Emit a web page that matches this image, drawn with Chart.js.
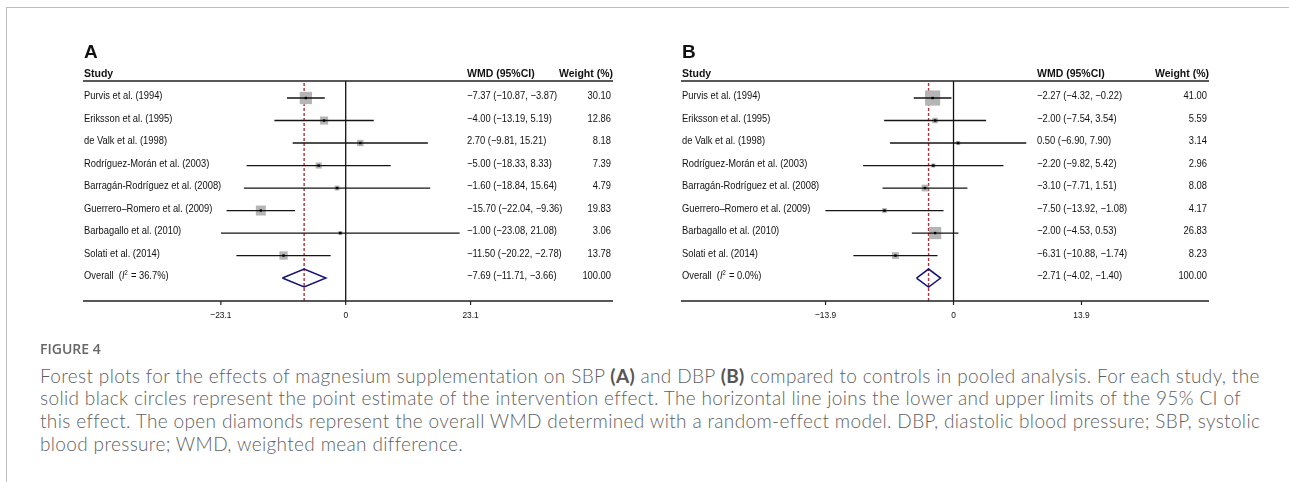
<!DOCTYPE html>
<html>
<head>
<meta charset="utf-8">
<script src="https://cdn.jsdelivr.net/npm/chart.js@4.4.1/dist/chart.umd.min.js"></script>
<style>
  html, body { margin: 0; padding: 0; background: #fff; }
  body { width: 1289px; height: 482px; position: relative; overflow: hidden; }
  .frame { position: absolute; left: 6px; top: 7px; right: 0; bottom: 0;
           border-top: 1px solid #bdbdbd; border-left: 1px solid #bdbdbd; }
  canvas { position: absolute; top: 0; }
  #chartA { left: 0; }
  #chartB { left: 640px; }
  .figlabel { position: absolute; left: 40px; top: 342px; font: 600 14px/14px "Open Sans", sans-serif;
              color: #666; }
  .caption { position: absolute; left: 40px; top: 364.5px; font: 300 19px/22.8px "Lato", sans-serif;
             letter-spacing: 0.35px; color: #5f5f5f; white-space: nowrap; }
  .caption b { font-weight: 700; color: #555; }
</style>
</head>
<body>
<div class="frame"></div>
<canvas id="chartA" width="640" height="340"></canvas>
<canvas id="chartB" width="649" height="340"></canvas>
<div class="figlabel">FIGURE 4</div>
<div class="caption">
Forest plots for the effects of magnesium supplementation on SBP <b>(A)</b> and DBP <b>(B)</b> compared to controls in pooled analysis. For each study, the<br>
solid black circles represent the point estimate of the intervention effect. The horizontal line joins the lower and upper limits of the 95% CI of<br>
this effect. The open diamonds represent the overall WMD determined with a random-effect model. DBP, diastolic blood pressure; SBP, systolic<br>
blood pressure; WMD, weighted mean difference.
</div>
<script>
"use strict";

const studies = [
  "Purvis et al. (1994)",
  "Eriksson et al. (1995)",
  "de Valk et al. (1998)",
  "Rodríguez-Morán et al. (2003)",
  "Barragán-Rodríguez et al. (2008)",
  "Guerrero–Romero et al. (2009)",
  "Barbagallo et al. (2010)",
  "Solati et al. (2014)",
];

// panel A - SBP
const sbpEst = [-7.37, -4.0, 2.7, -5.0, -1.6, -15.7, -1.0, -11.5];
const sbpLow = [-10.87, -13.19, -9.81, -18.33, -18.84, -22.04, -23.08, -20.22];
const sbpHigh = [-3.87, 5.19, 15.21, 8.33, 15.64, -9.36, 21.08, -2.78];
const sbpWeight = [30.1, 12.86, 8.18, 7.39, 4.79, 19.83, 3.06, 13.78];
const sbpOverall = [-7.69, -11.71, -3.66];
const sbpI2 = 36.7;
const sbpTicks = [-23.1, 0, 23.1];

// panel B - DBP
const dbpEst = [-2.27, -2.0, 0.5, -2.2, -3.1, -7.5, -2.0, -6.31];
const dbpLow = [-4.32, -7.54, -6.9, -9.82, -7.71, -13.92, -4.53, -10.88];
const dbpHigh = [-0.22, 3.54, 7.9, 5.42, 1.51, -1.08, 0.53, -1.74];
const dbpWeight = [41.0, 5.59, 3.14, 2.96, 8.08, 4.17, 26.83, 8.23];
const dbpOverall = [-2.71, -4.02, -1.4];
const dbpI2 = 0.0;
const dbpTicks = [-13.9, 0, 13.9];

const FONT = '"Liberation Sans", Arial, sans-serif';
const num = (v) => v.toFixed(2).replace("-", "\u2212");

// draws text squeezed horizontally, the original uses a narrow font
const squeezeText = (ctx, text, x, y, align, font, k) => {
  ctx.save();
  ctx.font = font;
  const w = ctx.measureText(text).width * k;
  let left = x;
  if (align === "right") left = x - w;
  if (align === "center") left = x - w / 2;
  ctx.translate(left, y);
  ctx.scale(k, 1);
  ctx.textAlign = "left";
  ctx.fillText(text, 0, 0);
  ctx.restore();
  return w;
};

const generateForest = (chartId, p) => {
  const ctx = document.getElementById(chartId).getContext("2d");
  const n = studies.length;
  const rows = studies.map((s, i) => i);

  const ciData = [];
  rows.forEach((i) => {
    ciData.push({ x: p.low[i], y: i }, { x: p.high[i], y: i }, { x: null, y: null });
  });

  const [oEst, oLow, oHigh] = p.overall;
  const diamond = [
    { x: oLow, y: n },
    { x: oEst, y: n - 0.4 },
    { x: oHigh, y: n },
    { x: oEst, y: n + 0.4 },
    { x: oLow, y: n },
  ];

  const forestDecor = {
    id: "forestDecor",
    beforeDatasetsDraw: (chart) => {
      const { ctx, chartArea: a, scales } = chart;
      const x0 = scales.x.getPixelForValue(0);
      const xp = scales.x.getPixelForValue(oEst);
      ctx.save();
      ctx.strokeStyle = "#111";
      ctx.lineWidth = 1.3;
      ctx.beginPath();
      ctx.moveTo(x0, a.top);
      ctx.lineTo(x0, a.bottom);
      ctx.stroke();
      ctx.strokeStyle = "#a8333f";
      ctx.lineWidth = 1.4;
      ctx.setLineDash([3, 2]);
      ctx.beginPath();
      ctx.moveTo(xp, a.top + 2);
      ctx.lineTo(xp, a.bottom);
      ctx.stroke();
      ctx.restore();
    },
    afterDraw: (chart) => {
      const { ctx, chartArea: a, scales } = chart;
      const wmdX = a.left + p.wmdOffset;
      const regular = `10.4px ${FONT}`;
      const bold = `bold 10.5px ${FONT}`;
      ctx.save();
      ctx.fillStyle = "#111";
      ctx.textBaseline = "alphabetic";

      ctx.font = `bold 19px ${FONT}`;
      ctx.fillText(p.letter, a.left + 1, a.top - 23);

      ctx.font = bold;
      ctx.textAlign = "left";
      ctx.fillText("Study", a.left + 1, a.top - 4);
      ctx.fillText("WMD (95%CI)", wmdX, a.top - 4);
      ctx.textAlign = "right";
      ctx.fillText("Weight (%)", a.right, a.top - 4);

      ctx.strokeStyle = "#222";
      ctx.lineWidth = 1.5;
      ctx.beginPath();
      ctx.moveTo(a.left, a.top);
      ctx.lineTo(a.right, a.top);
      ctx.moveTo(a.left, a.bottom);
      ctx.lineTo(a.right, a.bottom);
      ctx.stroke();

      ctx.textBaseline = "middle";
      rows.forEach((i) => {
        const y = scales.y.getPixelForValue(i) - 1.5;
        squeezeText(ctx, studies[i], a.left + 1, y, "left", regular, 0.9);
        squeezeText(ctx, `${num(p.est[i])} (${num(p.low[i])}, ${num(p.high[i])})`, wmdX, y, "left", regular, 0.9);
        squeezeText(ctx, p.weight[i].toFixed(2), a.right - 2, y, "right", regular, 0.9);
      });

      // overall row
      const yo = scales.y.getPixelForValue(n) - 1.5;
      let xo = a.left + 1;
      xo += squeezeText(ctx, "Overall  (", xo, yo, "left", regular, 0.9);
      xo += squeezeText(ctx, "I", xo, yo, "left", `italic 10.4px ${FONT}`, 0.9);
      xo += squeezeText(ctx, "2", xo, yo - 3, "left", `6.5px ${FONT}`, 0.9);
      squeezeText(ctx, ` = ${p.i2.toFixed(1)}%)`, xo + 0.5, yo, "left", regular, 0.9);
      squeezeText(ctx, `${num(oEst)} (${num(oLow)}, ${num(oHigh)})`, wmdX, yo, "left", regular, 0.9);
      squeezeText(ctx, (100).toFixed(2), a.right - 2, yo, "right", regular, 0.9);

      // x axis ticks
      ctx.lineWidth = 1.2;
      p.ticks.forEach((t) => {
        const tx = scales.x.getPixelForValue(t);
        ctx.beginPath();
        ctx.moveTo(tx, a.bottom);
        ctx.lineTo(tx, a.bottom + 4);
        ctx.stroke();
        const label = t === 0 ? "0" : t.toFixed(1).replace("-", "\u2212");
        squeezeText(ctx, label, tx, a.bottom + 14, "center", `9.5px ${FONT}`, 0.88);
      });
      ctx.restore();
    },
  };

  const chartConfig = {
    type: "scatter",
    data: {
      datasets: [
        {
          data: rows.map((i) => ({ x: p.est[i], y: i })),
          pointStyle: "rect",
          pointRadius: (c) => (p.boxScale * Math.sqrt(p.weight[c.dataIndex] || 0)) / Math.SQRT2,
          pointBackgroundColor: "#b5b5b5",
          pointBorderWidth: 0,
          order: 3,
        },
        {
          data: ciData,
          showLine: true,
          borderColor: "#151515",
          borderWidth: 1.3,
          pointRadius: 0,
          spanGaps: false,
          order: 2,
        },
        {
          data: rows.map((i) => ({ x: p.est[i], y: i })),
          pointStyle: "rect",
          pointRadius: 1.7,
          pointBackgroundColor: "#000",
          pointBorderWidth: 0,
          order: 1,
        },
        {
          data: diamond,
          showLine: true,
          borderColor: "#14147a",
          borderWidth: 1.5,
          pointRadius: 0,
          fill: false,
          order: 1,
        },
      ],
    },
    options: {
      responsive: false,
      animation: false,
      events: [],
      layout: { padding: p.padding },
      plugins: {
        legend: { display: false },
        tooltip: { enabled: false },
      },
      scales: {
        x: { type: "linear", min: p.min, max: p.max, display: false },
        y: { type: "linear", min: -0.756, max: 9.02, reverse: true, display: false },
      },
    },
    plugins: [forestDecor],
  };

  new Chart(ctx, chartConfig);
};

generateForest("chartA", {
  letter: "A",
  est: sbpEst, low: sbpLow, high: sbpHigh, weight: sbpWeight,
  overall: sbpOverall, i2: sbpI2, ticks: sbpTicks,
  min: -48.6, max: 49.45, boxScale: 2.24, wmdOffset: 384,
  padding: { left: 83, right: 27, top: 81, bottom: 39 },
});

generateForest("chartB", {
  letter: "B",
  est: dbpEst, low: dbpLow, high: dbpHigh, weight: dbpWeight,
  overall: dbpOverall, i2: dbpI2, ticks: dbpTicks,
  min: -29.6, max: 27.75, boxScale: 2.37, wmdOffset: 356,
  padding: { left: 41, right: 80, top: 81, bottom: 39 },
});
</script>
</body>
</html>
